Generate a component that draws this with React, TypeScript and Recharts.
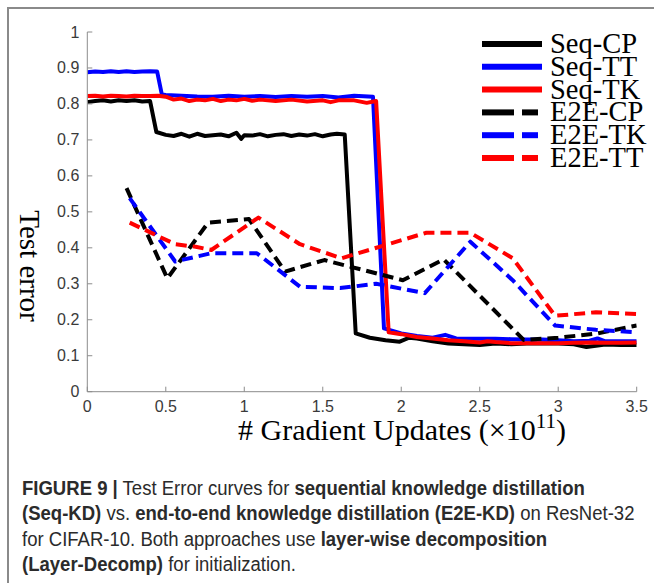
import React from 'react';
import { LineChart, Line, XAxis, YAxis } from 'recharts';

// ---------- data ----------
const xTicks = [0, 0.5, 1, 1.5, 2, 2.5, 3, 3.5];
const xTickLabels = ['0', '0.5', '1', '1.5', '2', '2.5', '3', '3.5'];
const yTicks = [0, 0.1, 0.2, 0.3, 0.4, 0.5, 0.6, 0.7, 0.8, 0.9, 1];
const yTickLabels = ['0', '0.1', '0.2', '0.3', '0.4', '0.5', '0.6', '0.7', '0.8', '0.9', '1'];

const seriesNames = ['Seq-CP', 'Seq-TT', 'Seq-TK', 'E2E-CP', 'E2E-TK', 'E2E-TT'];
const seriesColors = ['#000000', '#0000ff', '#ff0000', '#000000', '#0000ff', '#ff0000'];
const seriesDashed = [false, false, false, true, true, true];

const seqCP: [number, number][] = [
  [0, 0.805], [0.05, 0.808], [0.1, 0.81], [0.15, 0.807], [0.2, 0.81], [0.25, 0.808], [0.3, 0.81],
  [0.35, 0.807], [0.4, 0.808], [0.44, 0.722], [0.5, 0.714], [0.55, 0.711], [0.6, 0.717], [0.65, 0.709],
  [0.7, 0.717], [0.75, 0.711], [0.8, 0.713], [0.85, 0.715], [0.9, 0.71], [0.95, 0.72], [0.98, 0.703],
  [1.0, 0.713], [1.05, 0.712], [1.1, 0.716], [1.15, 0.71], [1.2, 0.714], [1.25, 0.716], [1.3, 0.711],
  [1.35, 0.715], [1.4, 0.712], [1.45, 0.716], [1.5, 0.71], [1.55, 0.715], [1.59, 0.717], [1.64, 0.715],
  [1.71, 0.162], [1.8, 0.15], [1.9, 0.143], [1.99, 0.139], [2.05, 0.15], [2.1, 0.148], [2.2, 0.14],
  [2.3, 0.134], [2.4, 0.132], [2.5, 0.13], [2.6, 0.134], [2.7, 0.132], [2.8, 0.134], [2.9, 0.134],
  [3.0, 0.134], [3.1, 0.132], [3.18, 0.124], [3.3, 0.131], [3.4, 0.13], [3.5, 0.13],
];
const seqTT: [number, number][] = [
  [0, 0.888], [0.05, 0.89], [0.1, 0.889], [0.15, 0.891], [0.2, 0.889], [0.25, 0.891], [0.3, 0.889],
  [0.35, 0.89], [0.4, 0.891], [0.445, 0.89], [0.475, 0.826], [0.5, 0.825], [0.6, 0.823], [0.7, 0.821],
  [0.8, 0.82], [0.9, 0.823], [1.0, 0.82], [1.1, 0.822], [1.2, 0.819], [1.3, 0.822], [1.4, 0.82],
  [1.5, 0.822], [1.6, 0.818], [1.7, 0.823], [1.82, 0.82], [1.89, 0.176], [2.0, 0.162], [2.1, 0.155],
  [2.2, 0.15], [2.28, 0.158], [2.35, 0.148], [2.5, 0.147], [2.6, 0.147], [2.7, 0.146], [2.8, 0.145],
  [2.9, 0.145], [3.0, 0.143], [3.1, 0.14], [3.2, 0.142], [3.25, 0.148], [3.3, 0.14], [3.4, 0.14], [3.5, 0.14],
];
const seqTK: [number, number][] = [
  [0, 0.822], [0.05, 0.823], [0.1, 0.821], [0.15, 0.823], [0.2, 0.822], [0.25, 0.821], [0.3, 0.823],
  [0.35, 0.822], [0.4, 0.822], [0.45, 0.823], [0.5, 0.82], [0.55, 0.812], [0.6, 0.815], [0.65, 0.808],
  [0.7, 0.812], [0.75, 0.81], [0.8, 0.814], [0.85, 0.808], [0.9, 0.812], [0.95, 0.81], [1.0, 0.814],
  [1.05, 0.809], [1.1, 0.812], [1.2, 0.808], [1.3, 0.812], [1.4, 0.807], [1.5, 0.81], [1.55, 0.805],
  [1.6, 0.81], [1.7, 0.81], [1.78, 0.803], [1.84, 0.808], [1.92, 0.165], [2.0, 0.16], [2.1, 0.152],
  [2.2, 0.148], [2.3, 0.143], [2.4, 0.14], [2.5, 0.137], [2.55, 0.14], [2.6, 0.138], [2.7, 0.135],
  [2.8, 0.135], [2.9, 0.135], [3.0, 0.135], [3.1, 0.136], [3.2, 0.137], [3.3, 0.136], [3.4, 0.136], [3.5, 0.137],
];
const e2eCP: [number, number][] = [
  [0.25, 0.566], [0.51, 0.315], [0.77, 0.47], [1.03, 0.48], [1.26, 0.334], [1.51, 0.366], [2.01, 0.31],
  [2.27, 0.368], [2.78, 0.144], [3.0, 0.15], [3.25, 0.162], [3.5, 0.184],
];
const e2eTK: [number, number][] = [
  [0.27, 0.538], [0.56, 0.362], [0.79, 0.385], [1.08, 0.385], [1.355, 0.292], [1.61, 0.288],
  [1.84, 0.3], [2.15, 0.274], [2.44, 0.417], [2.71, 0.31], [2.98, 0.184], [3.24, 0.172], [3.5, 0.165],
];
const e2eTT: [number, number][] = [
  [0.27, 0.47], [0.56, 0.41], [0.69, 0.403], [0.79, 0.394], [1.09, 0.484], [1.355, 0.41], [1.62, 0.371],
  [2.16, 0.442], [2.44, 0.442], [2.71, 0.371], [2.98, 0.211], [3.24, 0.221], [3.5, 0.216],
];

const allSeries = [seqCP, seqTT, seqTK, e2eCP, e2eTK, e2eTT];

// ---------- helpers ----------
const toRows = (pts: [number, number][]) => pts.map(([x, y]) => ({ x, y }));

const AXIS_GRAY = '#8c8c8c';
const TICK_COLOR = '#3a3a3a';

const YTick = (props: any) => {
  const { x, y, payload } = props;
  const idx = yTicks.indexOf(payload.value);
  return (
    <g>
      <line x1={x} y1={y} x2={x + 5} y2={y} stroke={AXIS_GRAY} strokeWidth={1} />
      <text x={x - 8} y={y} textAnchor="end" dominantBaseline="central"
        fontFamily="'Liberation Sans', Arial, sans-serif" fontSize={16} fill={TICK_COLOR}>
        {idx >= 0 ? yTickLabels[idx] : payload.value}
      </text>
    </g>
  );
};

const XTick = (props: any) => {
  const { x, y, payload } = props;
  const idx = xTicks.indexOf(payload.value);
  return (
    <g>
      <line x1={x} y1={y} x2={x} y2={y - 5} stroke={AXIS_GRAY} strokeWidth={1} />
      <text x={x} y={y + 20} textAnchor="middle"
        fontFamily="'Liberation Sans', Arial, sans-serif" fontSize={16} fill={TICK_COLOR}>
        {idx >= 0 ? xTickLabels[idx] : payload.value}
      </text>
    </g>
  );
};

const LegendBox = () => (
  <svg width={180} height={170} style={{ position: 'absolute', left: 480, top: 20 }}>
    {seriesNames.map((name, i) => {
      const cy = 24 + i * 22.8;
      const color = seriesColors[i];
      return (
        <g key={name}>
          {seriesDashed[i] ? (
            <>
              <line x1={2} y1={cy} x2={34} y2={cy} stroke={color} strokeWidth={6} />
              <line x1={42} y1={cy} x2={58} y2={cy} stroke={color} strokeWidth={6} />
            </>
          ) : (
            <line x1={2} y1={cy} x2={62} y2={cy} stroke={color} strokeWidth={6} />
          )}
          <text x={70} y={cy + 9} fontFamily="'Liberation Serif', 'Times New Roman', serif"
            fontSize={28.5} fill="#000">{name}</text>
        </g>
      );
    })}
  </svg>
);

const XLabel = (props: any) => {
  const { viewBox } = props;
  const y = (viewBox?.y ?? 391.7) + 48;
  return (
    <text x={402} y={y} textAnchor="middle"
      fontFamily="'Liberation Serif', 'Times New Roman', serif" fontSize={30} fill="#000">
      # Gradient Updates (×10
      <tspan dy={-12} fontSize={21}>11</tspan>
      <tspan dy={12}>)</tspan>
    </text>
  );
};

const YLabel = () => (
  <text x={30} y={266} transform="rotate(90, 30, 266)" textAnchor="middle" dominantBaseline="central"
    fontFamily="'Liberation Serif', 'Times New Roman', serif" fontSize={29} fill="#000">
    Test error
  </text>
);

export default function App() {
  return (
    <div style={{ position: 'absolute', left: 0, top: 0, width: 654, height: 583, overflow: 'hidden', background: '#fff' }}>
      <div style={{ position: 'absolute', left: 7, top: 7, width: 700, height: 700, borderLeft: '2px solid #8a8a8a', borderTop: '2px solid #8a8a8a' }} />
      <div style={{ position: 'absolute', left: 0, top: 0 }}>
        <LineChart width={654} height={450} margin={{ top: 32, right: 17.3, bottom: 28.3, left: 47.3 }}>
          <XAxis type="number" dataKey="x" domain={[0, 3.5]} ticks={xTicks} height={30}
            axisLine={{ stroke: AXIS_GRAY, strokeWidth: 1 }} tickLine={false} tickSize={0} tickMargin={0}
            tick={<XTick />} interval={0} allowDataOverflow label={<XLabel />} />
          <YAxis type="number" dataKey="y" domain={[0, 1]} ticks={yTicks} width={40}
            axisLine={{ stroke: AXIS_GRAY, strokeWidth: 1 }} tickLine={false} tickSize={0} tickMargin={0}
            tick={<YTick />} interval={0} allowDataOverflow label={<YLabel />} />
          {allSeries.map((pts, i) => (
            <Line key={seriesNames[i]} name={seriesNames[i]} data={toRows(pts)} dataKey="y" type="linear"
              stroke={seriesColors[i]} strokeWidth={4} dot={false} activeDot={false}
              strokeDasharray={seriesDashed[i] ? '11 6' : undefined} strokeLinejoin="round"
              isAnimationActive={false} />
          ))}
        </LineChart>
      </div>
      <LegendBox />
      <div style={{ position: 'absolute', left: 22, top: 476, width: 680, transform: 'scaleX(0.95)', transformOrigin: '0 0', fontFamily: "'Liberation Sans', Arial, sans-serif", fontSize: 19.5, lineHeight: '25.4px', color: '#2b2b2b', whiteSpace: 'nowrap' }}>
        <b>FIGURE 9 |</b> Test Error curves for <b>sequential knowledge distillation</b>
        <br />
        <b>(Seq-KD)</b> vs. <b>end-to-end knowledge distillation (E2E-KD)</b> on ResNet-32
        <br />
        for CIFAR-10. Both approaches use <b>layer-wise decomposition</b>
        <br />
        <b>(Layer-Decomp)</b> for initialization.
      </div>
    </div>
  );
}
